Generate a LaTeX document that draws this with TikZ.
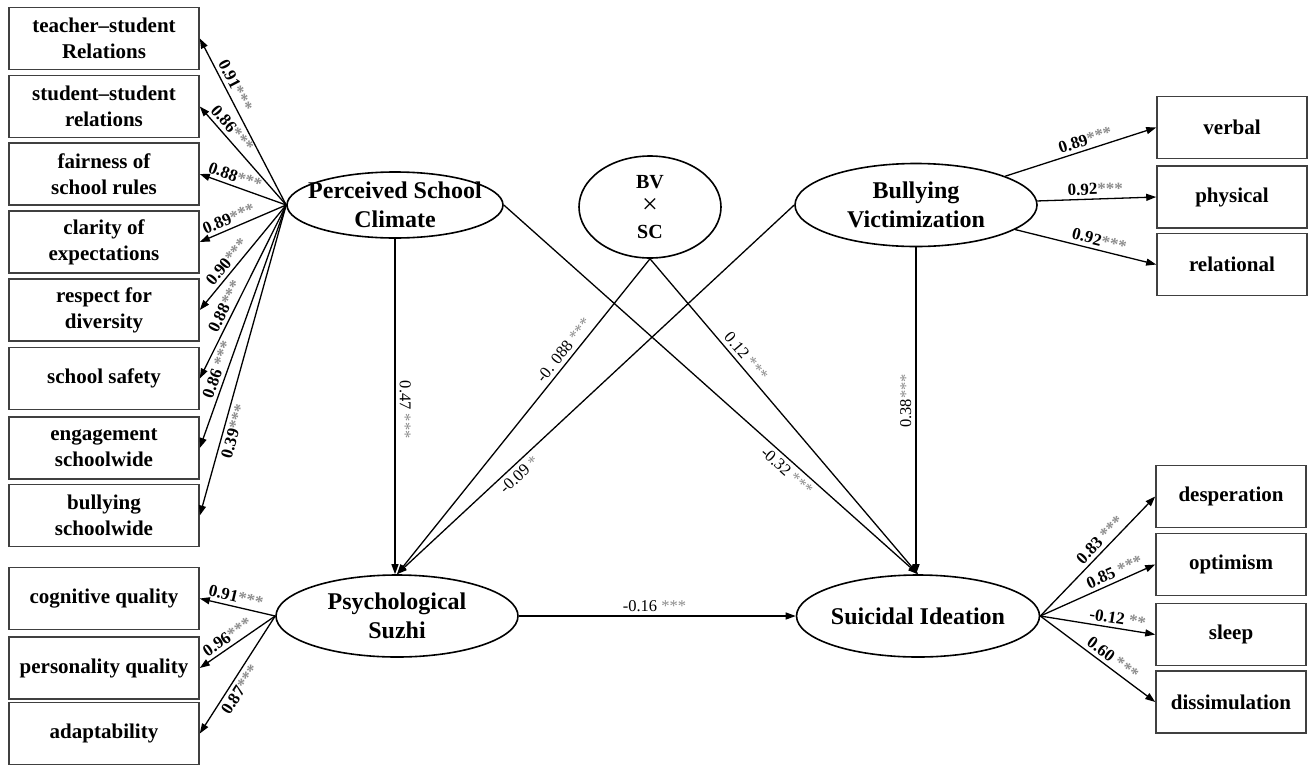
\documentclass[tikz,border=0pt]{standalone}
\usepackage{fontspec}
\setmainfont{Liberation Serif}
\usetikzlibrary{shapes.geometric,arrows.meta}
\newcommand\gs[1]{\textcolor{black!45}{#1}}
\begin{document}
\begin{tikzpicture}[x=1pt,y=-1pt,
  ind/.style={draw=black!75, line width=1.6pt, minimum width=190pt, minimum height=62pt,
    inner sep=0pt, align=center, font=\fontsize{21}{26}\selectfont\bfseries},
  indr/.style={ind, minimum width=150pt},
  lat/.style={ellipse, draw, line width=1.6pt, inner sep=0pt},
  lattxt/.style={align=center, inner sep=0pt, font=\fontsize{24}{29}\selectfont\bfseries},
  arr/.style={-{Triangle[length=10pt,width=7pt]}, line width=1.3pt},
  ld/.style={sloped, font=\fontsize{17}{19}\selectfont\bfseries, inner sep=3.5pt},
  pl/.style={font=\fontsize{16.5}{18}\selectfont, inner sep=4pt},
]
\useasboundingbox (0,0) rectangle (1308,766);

% latent variables
\node[lat, minimum width=216pt, minimum height=66pt] (PSC) at (395,205) {};
\node[lattxt] (PSCt) at (PSC.center) {Perceived School\\Climate};
\node[lat, minimum width=142pt, minimum height=102pt] (INT) at (650,207) {};
\node[align=center, inner sep=0pt, font=\fontsize{20}{27}\selectfont\bfseries] (INTt) at (INT.center) {BV\\[-2pt]{\fontsize{28}{27}\selectfont\mdseries ×}\\[-2pt]SC};
\node[lat, minimum width=242pt, minimum height=83pt] (BV) at (916,205) {};
\node[lattxt] (BVt) at (BV.center) {Bullying\\Victimization};
\node[lat, minimum width=242pt, minimum height=82pt] (PS) at (397,616) {};
\node[lattxt] (PSt) at (PS.center) {Psychological\\Suzhi};
\node[lat, minimum width=243pt, minimum height=82pt] (SI) at (918,616) {};
\node[lattxt] (SIt) at (SI.center) {Suicidal Ideation};

% school climate indicators
\node[ind] (i1) at (104,38.5) {teacher–student\\Relations};
\node[ind] (i2) at (104,106.5) {student–student\\relations};
\node[ind] (i3) at (104,174) {fairness of\\school rules};
\node[ind] (i4) at (104,242) {clarity of\\expectations};
\node[ind] (i5) at (104,310) {respect for\\diversity};
\node[ind] (i6) at (104,378.5) {school safety};
\node[ind] (i7) at (104,448) {engagement\\schoolwide};
\node[ind] (i8) at (104,515.5) {bullying\\schoolwide};

% suzhi indicators
\node[ind] (p1) at (104,598.5) {cognitive quality};
\node[ind] (p2) at (104,668) {personality quality};
\node[ind] (p3) at (104,733.5) {adaptability};

% bullying indicators
\node[indr] (b1) at (1232,127.5) {verbal};
\node[indr] (b2) at (1232,197) {physical};
\node[indr] (b3) at (1232,264.5) {relational};

% suicidal ideation indicators
\node[indr] (s1) at (1231,496.5) {desperation};
\node[indr] (s2) at (1231,564.5) {optimism};
\node[indr] (s3) at (1231,634.5) {sleep};
\node[indr] (s4) at (1231,702) {dissimulation};

% loadings: school climate
\draw[arr] (PSC.west) -- node[ld,pos=.69,above]{0.91\gs{***}} (i1.east);
\draw[arr] (PSC.west) -- node[ld,pos=.71,above]{0.86\gs{***}} (i2.east);
\draw[arr] (PSC.west) -- node[ld,pos=.63,above]{0.88\gs{***}} (i3.east);
\draw[arr] (PSC.west) -- node[ld,pos=.62,above]{0.89\gs{***}} (i4.east);
\draw[arr] (PSC.west) -- node[ld,pos=.60,above]{0.90\gs{***}} (i5.east);
\draw[arr] (PSC.west) -- node[ld,pos=.61,above]{0.88\gs{***}} (i6.east);
\draw[arr] (PSC.west) -- node[ld,pos=.69,above]{0.86 \gs{***}} (i7.east);
\draw[arr] (PSC.west) -- node[ld,pos=.72,below]{0.39\gs{***}} (i8.east);

% loadings: suzhi
\draw[arr] (PS.west) -- node[ld,pos=.55,above]{0.91\gs{***}} (p1.east);
\draw[arr] (PS.west) -- node[ld,pos=.56,above]{0.96\gs{***}} (p2.east);
\draw[arr] (PS.west) -- node[ld,pos=.58,below]{0.87\gs{***}} (p3.east);

% loadings: bullying
\draw[arr] (BV) -- node[ld,pos=.55,above]{0.89\gs{***}} (b1.west);
\draw[arr] (BV) -- node[ld,pos=.49,above]{0.92\gs{***}} (b2.west);
\draw[arr] (BV) -- node[ld,pos=.58,above]{0.92\gs{***}} (b3.west);

% loadings: suicidal ideation
\draw[arr] (SI.east) -- node[ld,pos=.58,above]{0.83 \gs{***}} (s1.west);
\draw[arr] (SI.east) -- node[ld,pos=.68,above]{0.85 \gs{***}} (s2.west);
\draw[arr] (SI.east) -- node[ld,pos=.66,above]{-0.12 \gs{**}} (s3.west);
\draw[arr] (SI.east) -- node[ld,pos=.58,above]{0.60 \gs{***}} (s4.west);

% structural paths
\draw[arr] (PSC.south) -- node[pl,pos=.51,rotate=-90,anchor=south]{0.47 \gs{***}} (PSC.south |- PS.north);
\draw[arr] (BV.south) -- node[pl,pos=.47,rotate=90,anchor=south]{0.38\gs{***}} (BV.south |- SI.north);
\draw[arr] (PSC.east) -- node[pl,sloped,pos=.70,below]{-0.32 \gs{***}} (SI.north);
\draw[arr] (BV.west) -- node[pl,sloped,pos=.71,below]{-0.09 \gs{*}} (PS.north);
\draw[arr] (INT.south) -- node[pl,sloped,pos=.31,above]{-0. 088 \gs{***}} (PS.north);
\draw[arr] (INT.south) -- node[pl,sloped,pos=.33,above]{0.12 \gs{***}} (SI.north);
\draw[arr] (PS.east) -- node[pl,pos=.49,above]{-0.16 \gs{***}} (SI.west);
\end{tikzpicture}
\end{document}
